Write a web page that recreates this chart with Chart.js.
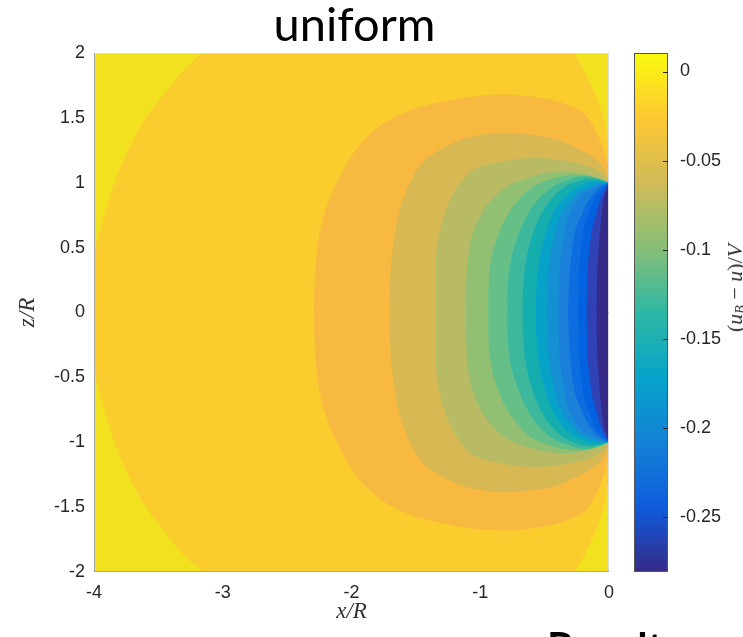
<!DOCTYPE html>
<html><head><meta charset="utf-8">
<script src="https://cdn.jsdelivr.net/npm/chart.js@4/dist/chart.umd.min.js"></script>
<style>
html,body{margin:0;padding:0;background:#fff;overflow:hidden;width:743px;height:637px}
#wrap{position:relative;width:743px;height:637px;overflow:hidden}
#main{position:absolute;left:0;top:0}
#cbar{position:absolute;left:600px;top:0}
.title{position:absolute;left:0;width:709px;top:0px;text-align:center;font-family:Lato,"Open Sans",sans-serif;font-size:47px;line-height:47px;color:#000}
.cblabel{position:absolute;left:738px;top:288px;transform:translate(-50%,-50%) rotate(-90deg);white-space:nowrap;font-family:"Liberation Serif",serif;font-size:22px;color:#333;line-height:22px}
.cblabel sub{font-size:14px;vertical-align:-3px}
.results{position:absolute;left:547px;top:626px;font-family:Lato,sans-serif;font-weight:bold;font-size:42px;line-height:42px;color:#000;white-space:nowrap}
</style></head>
<body><div id="wrap">
<canvas id="main" width="743" height="637"></canvas>
<canvas id="cbar" width="143" height="637"></canvas>
<div class="title">uniform</div>
<div class="cblabel">(<i>u</i><sub><i>B</i></sub> − <i>u</i>)/<i>V</i></div>
<div class="results">Results</div>
</div>
<script>
// ---- axis ticks ----
const xTicks = [-4, -3, -2, -1, 0];
const zTicks = [-2, -1.5, -1, -0.5, 0, 0.5, 1, 1.5, 2];
const cbTicks = [-0.25, -0.2, -0.15, -0.1, -0.05, 0];
const cbTickLabels = ['-0.25', '-0.2', '-0.15', '-0.1', '-0.05', '0'];
const cbRange = [-0.281, 0.0104];

// ---- contour boundaries, [x/R, z/R] ----
const yellowLeft = [[-3.16,2.0],[-3.28,1.89],[-3.39,1.77],[-3.49,1.64],[-3.59,1.51],[-3.69,1.34],[-3.77,1.175],
  [-3.84,1.0],[-3.90,0.815],[-3.95,0.64],[-3.99,0.48],[-4.02,0],
  [-3.99,-0.48],[-3.95,-0.64],[-3.90,-0.815],[-3.84,-1.0],[-3.77,-1.175],[-3.69,-1.34],[-3.59,-1.51],[-3.49,-1.64],
  [-3.39,-1.77],[-3.28,-1.89],[-3.16,-2.0],
  [-3.05,-2.3],[-4.5,-2.3],[-4.5,2.3],[-3.05,2.3]];
const yellowTopRight = [[0,1.25],[-0.012,1.36],[-0.031,1.46],[-0.07,1.59],[-0.122,1.715],[-0.19,1.86],[-0.264,2.0],
  [-0.32,2.3],[0.3,2.3],[0.3,1.25]];
const yellowBottomRight = [[0,-1.24],[-0.012,-1.35],[-0.031,-1.45],[-0.07,-1.59],[-0.124,-1.73],[-0.19,-1.87],[-0.264,-2.0],
  [-0.32,-2.3],[0.3,-2.3],[0.3,-1.24]];
const level1 = [[0,1.10],[-0.03,1.22],[-0.07,1.33],[-0.13,1.45],[-0.20,1.54],[-0.32,1.60],[-0.46,1.64],[-0.65,1.67],
  [-0.85,1.68],[-1.05,1.665],[-1.235,1.635],[-1.44,1.59],[-1.60,1.535],[-1.76,1.45],[-1.91,1.32],[-2.01,1.19],
  [-2.09,1.047],[-2.16,0.90],[-2.21,0.76],[-2.25,0.60],[-2.27,0.45],[-2.285,0.25],[-2.29,0],
  [-2.285,-0.25],[-2.27,-0.45],[-2.25,-0.60],[-2.21,-0.76],[-2.16,-0.90],[-2.09,-1.047],[-2.01,-1.19],[-1.91,-1.32],
  [-1.76,-1.45],[-1.60,-1.535],[-1.44,-1.59],[-1.235,-1.635],[-1.05,-1.665],[-0.85,-1.68],[-0.65,-1.67],[-0.46,-1.64],
  [-0.32,-1.60],[-0.20,-1.54],[-0.13,-1.45],[-0.07,-1.33],[-0.03,-1.22],[0,-1.10]];
const level2 = [[0,1.02],[-0.03,1.09],[-0.07,1.15],[-0.16,1.22],[-0.28,1.28],[-0.41,1.335],[-0.55,1.365],[-0.70,1.38],
  [-0.85,1.385],[-1.02,1.365],[-1.18,1.32],[-1.32,1.25],[-1.445,1.16],[-1.53,1.03],[-1.60,0.867],[-1.65,0.68],
  [-1.68,0.48],[-1.70,0.25],[-1.70,0],
  [-1.70,-0.25],[-1.68,-0.48],[-1.65,-0.68],[-1.60,-0.867],[-1.53,-1.03],[-1.445,-1.16],[-1.32,-1.25],[-1.18,-1.32],
  [-1.02,-1.365],[-0.85,-1.385],[-0.70,-1.38],[-0.55,-1.365],[-0.41,-1.335],[-0.28,-1.28],[-0.16,-1.22],[-0.07,-1.15],
  [-0.03,-1.09],[0,-1.02]];
const level3 = [[0,1.0],[-0.07,1.08],[-0.20,1.137],[-0.38,1.175],[-0.59,1.19],[-0.82,1.165],[-1.056,1.10],[-1.16,0.99],
  [-1.235,0.867],[-1.30,0.68],[-1.34,0.48],[-1.345,0.25],[-1.345,0],
  [-1.345,-0.25],[-1.34,-0.48],[-1.30,-0.68],[-1.235,-0.867],[-1.16,-0.99],[-1.056,-1.10],[-0.82,-1.165],[-0.59,-1.19],
  [-0.38,-1.175],[-0.20,-1.137],[-0.07,-1.08],[0,-1.0]];
const level4 = [[0,1.0],[-0.15,1.06],[-0.27,1.08],[-0.406,1.085],[-0.60,1.045],[-0.795,0.97],[-0.91,0.87],[-1.0,0.74],
  [-1.06,0.60],[-1.095,0.43],[-1.11,0.22],[-1.11,0],
  [-1.11,-0.22],[-1.095,-0.43],[-1.06,-0.60],[-1.0,-0.74],[-0.91,-0.87],[-0.795,-0.97],[-0.60,-1.045],[-0.406,-1.085],
  [-0.27,-1.08],[-0.15,-1.06],[0,-1.0]];
const level5 = [[0,1.0],[-0.13,1.045],[-0.28,1.06],[-0.44,1.03],[-0.59,0.97],[-0.70,0.87],[-0.795,0.74],[-0.86,0.60],
  [-0.911,0.43],[-0.935,0.22],[-0.937,0],
  [-0.935,-0.22],[-0.911,-0.43],[-0.86,-0.60],[-0.795,-0.74],[-0.70,-0.87],[-0.59,-0.97],[-0.44,-1.03],[-0.28,-1.06],
  [-0.13,-1.045],[0,-1.0]];
const level6 = [[0,1.0],[-0.09,1.035],[-0.20,1.05],[-0.32,1.02],[-0.435,0.97],[-0.55,0.87],[-0.639,0.74],[-0.71,0.58],
  [-0.756,0.43],[-0.785,0.22],[-0.79,0],
  [-0.785,-0.22],[-0.756,-0.43],[-0.71,-0.58],[-0.639,-0.74],[-0.55,-0.87],[-0.435,-0.97],[-0.32,-1.02],[-0.20,-1.05],
  [-0.09,-1.035],[0,-1.0]];
const level7 = [[0,1.0],[-0.15,1.03],[-0.26,1.005],[-0.357,0.96],[-0.46,0.86],[-0.536,0.74],[-0.60,0.58],
  [-0.639,0.43],[-0.665,0.22],[-0.67,0],
  [-0.665,-0.22],[-0.639,-0.43],[-0.60,-0.58],[-0.536,-0.74],[-0.46,-0.86],[-0.357,-0.96],[-0.26,-1.005],[-0.15,-1.03],[0,-1.0]];
const level8 = [[0,1.0],[-0.124,1.01],[-0.215,0.98],[-0.303,0.93],[-0.38,0.85],[-0.445,0.74],[-0.50,0.58],
  [-0.536,0.43],[-0.562,0.22],[-0.567,0],
  [-0.562,-0.22],[-0.536,-0.43],[-0.50,-0.58],[-0.445,-0.74],[-0.38,-0.85],[-0.303,-0.93],[-0.215,-0.98],[-0.124,-1.01],[0,-1.0]];
const level9 = [[0,1.0],[-0.096,0.99],[-0.175,0.96],[-0.251,0.92],[-0.32,0.84],[-0.381,0.74],[-0.425,0.58],
  [-0.458,0.43],[-0.476,0.22],[-0.48,0],
  [-0.476,-0.22],[-0.458,-0.43],[-0.425,-0.58],[-0.381,-0.74],[-0.32,-0.84],[-0.251,-0.92],[-0.175,-0.96],[-0.096,-0.99],[0,-1.0]];
const level10 = [[0,1.0],[-0.07,0.98],[-0.14,0.95],[-0.212,0.91],[-0.27,0.83],[-0.316,0.74],[-0.35,0.58],
  [-0.375,0.43],[-0.39,0.22],[-0.394,0],
  [-0.39,-0.22],[-0.375,-0.43],[-0.35,-0.58],[-0.316,-0.74],[-0.27,-0.83],[-0.212,-0.91],[-0.14,-0.95],[-0.07,-0.98],[0,-1.0]];
const level11 = [[0,1.0],[-0.06,0.97],[-0.148,0.88],[-0.21,0.76],[-0.264,0.62],[-0.30,0.35],[-0.312,0.17],[-0.316,0],
  [-0.312,-0.17],[-0.30,-0.35],[-0.264,-0.62],[-0.21,-0.76],[-0.148,-0.88],[-0.06,-0.97],[0,-1.0]];
const level12 = [[0,1.0],[-0.04,0.96],[-0.109,0.88],[-0.16,0.76],[-0.20,0.62],[-0.23,0.35],[-0.236,0.17],[-0.238,0],
  [-0.236,-0.17],[-0.23,-0.35],[-0.20,-0.62],[-0.16,-0.76],[-0.109,-0.88],[-0.04,-0.96],[0,-1.0]];
const level13 = [[0,1.0],[-0.03,0.95],[-0.064,0.88],[-0.10,0.76],[-0.134,0.62],[-0.165,0.35],[-0.171,0.17],[-0.173,0],
  [-0.171,-0.17],[-0.165,-0.35],[-0.134,-0.62],[-0.10,-0.76],[-0.064,-0.88],[-0.03,-0.95],[0,-1.0]];
const level14 = [[0,1.0],[-0.02,0.94],[-0.04,0.88],[-0.056,0.76],[-0.07,0.62],[-0.09,0.35],[-0.095,0.17],[-0.096,0],
  [-0.095,-0.17],[-0.09,-0.35],[-0.07,-0.62],[-0.056,-0.76],[-0.04,-0.88],[-0.02,-0.94],[0,-1.0]];

// ---- styles ----
const baseColor = '#FACC2D';
const bandColors = ['#F1E11E','#F1E11E','#F1E11E','#F8B940','#D8B853','#B8BB63','#93BF73','#67BF88','#3DB89C',
  '#15AEAF','#07A2C7','#1591D3','#1A80D9','#0B6DDF','#0362E0','#3043B6','#352A87'];
const parulaStops = [[0,'#352a87'],[0.125,'#0f5cdd'],[0.25,'#1481d6'],[0.375,'#06a4ca'],[0.5,'#2eb7a4'],
  [0.625,'#87bf77'],[0.75,'#d1bb59'],[0.875,'#fec832'],[1,'#f9fb0e']];
const tickFont = {family:'"Liberation Sans", Arial, sans-serif', size:18};
const tickColor = '#262626';
const mathFont = {family:'"Liberation Serif", serif', style:'italic', size:23};

const contours = [yellowLeft, yellowTopRight, yellowBottomRight, level1, level2, level3, level4, level5, level6,
  level7, level8, level9, level10, level11, level12, level13, level14];

const plotDecor = {
  id: 'plotDecor',
  beforeDatasetsDraw(chart) {
    const {ctx, chartArea: a} = chart;
    ctx.save();
    ctx.fillStyle = baseColor;
    ctx.fillRect(a.left, a.top, a.right - a.left, a.bottom - a.top);
    ctx.restore();
  },
  afterDatasetsDraw(chart) {
    const {ctx, chartArea: a} = chart;
    ctx.save();
    ctx.lineWidth = 1;
    ctx.strokeStyle = '#dcdcdc';
    ctx.beginPath();
    ctx.moveTo(a.left, a.top + 0.5); ctx.lineTo(a.right, a.top + 0.5);
    ctx.moveTo(a.right - 0.5, a.top); ctx.lineTo(a.right - 0.5, a.bottom);
    ctx.stroke();
    ctx.strokeStyle = '#a8a8a8';
    ctx.beginPath();
    ctx.moveTo(a.left + 0.5, a.top); ctx.lineTo(a.left + 0.5, a.bottom);
    ctx.moveTo(a.left, a.bottom - 0.5); ctx.lineTo(a.right, a.bottom - 0.5);
    ctx.stroke();
    ctx.restore();
  }
};

new Chart(document.getElementById('main'), {
  type: 'line',
  data: {
    datasets: contours.map((pts, i) => ({
      data: pts.map(([x, z]) => ({x, y: z})),
      fill: 'shape',
      backgroundColor: bandColors[i],
      borderColor: bandColors[i],
      borderWidth: 0,
      pointRadius: 0,
      pointHoverRadius: 0,
      tension: 0.4,
      order: contours.length - i
    }))
  },
  options: {
    responsive: false,
    animation: false,
    events: [],
    layout: {padding: {left: 0, right: 134, top: 53, bottom: 0}},
    elements: {line: {capBezierPoints: false, tension: 0.4}},
    plugins: {legend: {display: false}, tooltip: {enabled: false}, title: {display: false}},
    scales: {
      x: {
        type: 'linear', min: -4, max: 0,
        afterBuildTicks: s => { s.ticks = xTicks.map(v => ({value: v})); },
        afterFit: s => { s.height = 65; },
        ticks: {callback: v => String(v), font: tickFont, color: tickColor, padding: 10, maxRotation: 0, autoSkip: false},
        grid: {display: false, drawTicks: false},
        border: {display: false},
        title: {display: true, text: 'x/R', font: mathFont, color: '#333', padding: {top: 0, bottom: 11}}
      },
      y: {
        type: 'linear', min: -2, max: 2,
        afterBuildTicks: s => { s.ticks = zTicks.map(v => ({value: v})); },
        afterFit: s => { s.width = 94; },
        ticks: {callback: v => String(v), font: tickFont, color: tickColor, padding: 9, autoSkip: false},
        grid: {display: false, drawTicks: false},
        border: {display: false},
        title: {display: true, text: 'z/R', font: mathFont, color: '#333', padding: {top: 14, bottom: 0}}
      }
    }
  },
  plugins: [plotDecor]
});

const cbDecor = {
  id: 'cbDecor',
  afterDatasetsDraw(chart) {
    const {ctx, chartArea: a} = chart;
    const ys = chart.scales.y;
    ctx.save();
    ctx.strokeStyle = '#555';
    ctx.lineWidth = 1;
    ctx.strokeRect(a.left + 0.5, a.top + 0.5, a.right - a.left - 1, a.bottom - a.top - 1);
    ctx.strokeStyle = '#262626';
    ctx.beginPath();
    cbTicks.forEach(v => {
      const py = Math.round(ys.getPixelForValue(v)) + 0.5;
      ctx.moveTo(a.right - 5, py); ctx.lineTo(a.right, py);
    });
    ctx.stroke();
    ctx.restore();
  }
};

new Chart(document.getElementById('cbar'), {
  type: 'bar',
  data: {
    labels: [''],
    datasets: [{
      data: [cbRange],
      backgroundColor: c => {
        const a = c.chart.chartArea;
        if (!a) return parulaStops[0][1];
        const g = c.chart.ctx.createLinearGradient(0, a.bottom, 0, a.top);
        parulaStops.forEach(([t, col]) => g.addColorStop(t, col));
        return g;
      },
      borderWidth: 0,
      barPercentage: 1,
      categoryPercentage: 1
    }]
  },
  options: {
    responsive: false,
    animation: false,
    events: [],
    layout: {padding: {left: 34, right: 0, top: 53, bottom: 65}},
    plugins: {legend: {display: false}, tooltip: {enabled: false}},
    scales: {
      x: {display: false},
      y: {
        position: 'right', min: cbRange[0], max: cbRange[1],
        afterBuildTicks: s => { s.ticks = cbTicks.map(v => ({value: v})); },
        afterFit: s => { s.width = 75; },
        ticks: {callback: (v, i) => cbTickLabels[i], font: tickFont, color: tickColor, padding: 12, autoSkip: false},
        grid: {display: false, drawTicks: false},
        border: {display: false}
      }
    }
  },
  plugins: [cbDecor]
});
</script>
</body></html>
